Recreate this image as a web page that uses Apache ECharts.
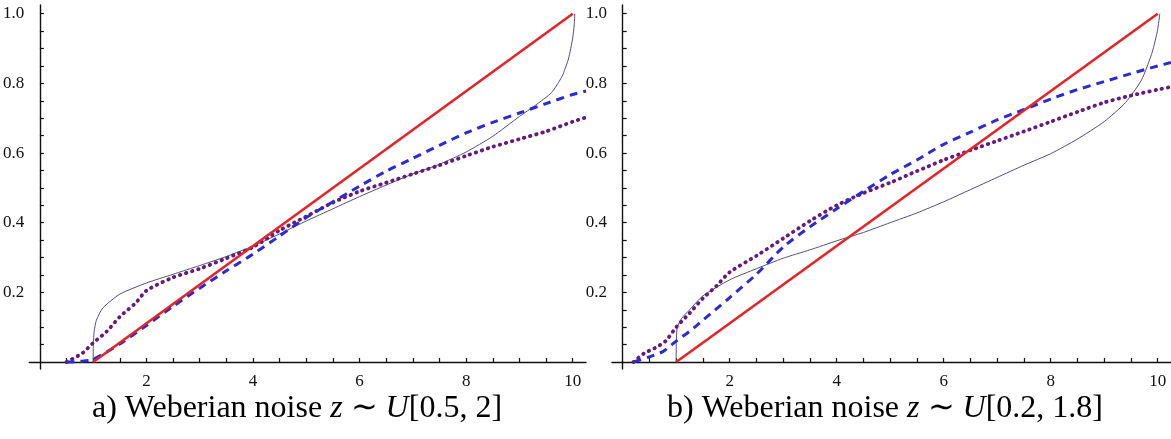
<!DOCTYPE html>
<html lang="en">
<head>
<meta charset="UTF-8">
<script src="https://cdn.jsdelivr.net/npm/echarts@6/dist/echarts.min.js"></script>
<style>
html, body { margin: 0; padding: 0; background: #fff; }
#chart { width: 1171px; height: 439px; }
</style>
</head>
<body>
<div id="chart"></div>
<script>
// tick positions / labels (same for both panels)
var xLabels = [2, 4, 6, 8, 10];
var xTicks = [0.5, 1, 1.5, 2, 2.5, 3, 3.5, 4, 4.5, 5, 5.5, 6, 6.5, 7, 7.5, 8, 8.5, 9, 9.5, 10];
var yLabels = [0.2, 0.4, 0.6, 0.8, 1.0];
var yTicks = [0.05, 0.1, 0.15, 0.2, 0.25, 0.3, 0.35, 0.4, 0.45, 0.5, 0.55, 0.6, 0.65, 0.7, 0.75, 0.8, 0.85, 0.9, 0.95, 1.0];

// a) Weberian noise z ~ U[0.5, 2]
var aRedX = [1, 10];
var aRedY = [0, 1];
var aThinX = [1, 1.002, 1.02, 1.06, 1.18, 1.5, 2, 2.5, 3, 3.5, 4, 4.5, 5, 5.5, 6, 6.5, 7, 7.5, 8, 8.5, 9, 9.3, 9.6, 9.8, 9.92, 10, 10.03, 10.04];
var aThinY = [0, 0.05, 0.09, 0.12, 0.155, 0.195, 0.227, 0.252, 0.277, 0.303, 0.333, 0.368, 0.405, 0.44, 0.475, 0.508, 0.54, 0.568, 0.603, 0.648, 0.705, 0.737, 0.773, 0.82, 0.87, 0.93, 0.97, 1.0];
var aBlueX = [0.5, 0.75, 1, 1.5, 2, 2.5, 3, 3.5, 4, 4.5, 5, 5.5, 6, 6.5, 7, 7.5, 8, 8.5, 9, 9.5, 10, 10.25];
var aBlueY = [0, 0.002, 0.008, 0.052, 0.105, 0.16, 0.212, 0.262, 0.31, 0.362, 0.415, 0.46, 0.505, 0.548, 0.585, 0.622, 0.658, 0.688, 0.715, 0.742, 0.768, 0.778];
var aDotX = [0.5, 0.8, 1, 1.25, 1.5, 1.8, 2, 2.5, 3, 3.5, 4, 4.5, 5, 5.5, 6, 6.5, 7, 7.5, 8, 8.5, 9, 9.5, 10, 10.25];
var aDotY = [0, 0.026, 0.055, 0.087, 0.13, 0.17, 0.205, 0.243, 0.268, 0.298, 0.33, 0.378, 0.418, 0.458, 0.49, 0.515, 0.54, 0.565, 0.592, 0.618, 0.64, 0.662, 0.69, 0.702];

// b) Weberian noise z ~ U[0.2, 1.8]
var bRedX = [1, 10];
var bRedY = [0, 1];
var bThinX = [1, 1.002, 1.02, 1.1, 1.25, 1.5, 2, 2.5, 3, 3.5, 4, 4.5, 5, 5.5, 6, 6.5, 7, 7.5, 8, 8.5, 9, 9.4, 9.7, 9.9, 10, 10.04];
var bThinY = [0, 0.06, 0.1, 0.125, 0.15, 0.19, 0.236, 0.268, 0.298, 0.322, 0.348, 0.372, 0.4, 0.428, 0.46, 0.495, 0.53, 0.565, 0.598, 0.64, 0.69, 0.745, 0.81, 0.89, 0.954, 1.0];
var bBlueX = [0.2, 0.5, 0.75, 1, 1.25, 1.5, 2, 2.5, 3, 3.5, 4, 4.5, 5, 5.5, 6, 6.5, 7, 7.5, 8, 8.5, 9, 9.5, 10, 10.25];
var bBlueY = [0, 0.015, 0.03, 0.06, 0.088, 0.12, 0.185, 0.252, 0.33, 0.388, 0.44, 0.49, 0.538, 0.58, 0.625, 0.66, 0.695, 0.725, 0.755, 0.782, 0.805, 0.828, 0.85, 0.86];
var bDotX = [0.2, 0.4, 0.6, 0.8, 1, 1.25, 1.5, 1.75, 2, 2.5, 3, 3.5, 4, 4.5, 5, 5.5, 6, 6.5, 7, 7.5, 8, 8.5, 9, 9.5, 10, 10.25];
var bDotY = [0, 0.025, 0.04, 0.06, 0.1, 0.14, 0.183, 0.218, 0.258, 0.305, 0.355, 0.405, 0.45, 0.485, 0.515, 0.548, 0.58, 0.608, 0.635, 0.662, 0.69, 0.718, 0.745, 0.765, 0.782, 0.79];

function zip(xs, ys) {
	var out = [];
	for (var i = 0; i < xs.length; i++) out.push([xs[i], ys[i]]);
	return out;
}

var labelFont = { fontSize: 17, color: '#111', fontFamily: 'Liberation Serif' };

function makeX(gi) {
	return {
		type: 'value', gridIndex: gi, min: -0.2, max: 10.25,
		axisLine: { onZero: true, lineStyle: { color: '#111', width: 1.4 } },
		axisTick: { inside: true, length: 4, customValues: xTicks, lineStyle: { color: '#111', width: 1.2 } },
		axisLabel: Object.assign({ customValues: xLabels, margin: 4 }, labelFont),
		splitLine: { show: false }
	};
}

function makeY(gi) {
	return {
		type: 'value', gridIndex: gi, min: -0.02, max: 1.025,
		axisLine: { onZero: true, lineStyle: { color: '#111', width: 1.4 } },
		axisTick: { inside: true, length: 4, customValues: yTicks, lineStyle: { color: '#111', width: 1.2 } },
		axisLabel: Object.assign({
			customValues: yLabels, margin: 5,
			formatter: function (v) { return v.toFixed(1); }
		}, labelFont),
		splitLine: { show: false }
	};
}

function curves(gi, thin, dots, blue, red) {
	var base = { type: 'line', xAxisIndex: gi, yAxisIndex: gi, showSymbol: false, silent: true };
	return [
		Object.assign({}, base, { data: thin, smooth: 0.2,
			lineStyle: { color: '#50507a', width: 1 } }),
		Object.assign({}, base, { data: dots, smooth: 0.25,
			lineStyle: { color: '#661a7a', width: 3.8, type: [0.5, 5.8], cap: 'round' } }),
		Object.assign({}, base, { data: blue, smooth: 0.25,
			lineStyle: { color: '#2b2bd0', width: 3, type: [8, 6] } }),
		Object.assign({}, base, { data: red, lineStyle: { color: '#e4232b', width: 2.6 } })
	];
}

var mychart = echarts.init(document.getElementById('chart'));

var captionRich = {
	i: { fontStyle: 'italic', fontSize: 32, fontFamily: 'Liberation Serif', color: '#000' }
};
var captionStyle = { fontSize: 32, fontWeight: 'normal', fontFamily: 'Liberation Serif', color: '#000', rich: captionRich };

var option = {
	animation: false,
	backgroundColor: '#fff',
	title: [
		{ text: 'a) Weberian noise {i|z} ∼ {i|U}[0.5, 2]', left: 292, top: 388, textAlign: 'center', textStyle: captionStyle },
		{ text: 'b) Weberian noise {i|z} ∼ {i|U}[0.2, 1.8]', left: 880, top: 388, textAlign: 'center', textStyle: captionStyle }
	],
	grid: [
		{ left: 26, top: 5, width: 560, height: 364 },
		{ left: 612, top: 5, width: 561, height: 364 }
	],
	xAxis: [makeX(0), makeX(1)],
	yAxis: [makeY(0), makeY(1)],
	series: [].concat(
		curves(0, zip(aThinX, aThinY), zip(aDotX, aDotY), zip(aBlueX, aBlueY), zip(aRedX, aRedY)),
		curves(1, zip(bThinX, bThinY), zip(bDotX, bDotY), zip(bBlueX, bBlueY), zip(bRedX, bRedY))
	)
};

mychart.setOption(option);
</script>
</body>
</html>
